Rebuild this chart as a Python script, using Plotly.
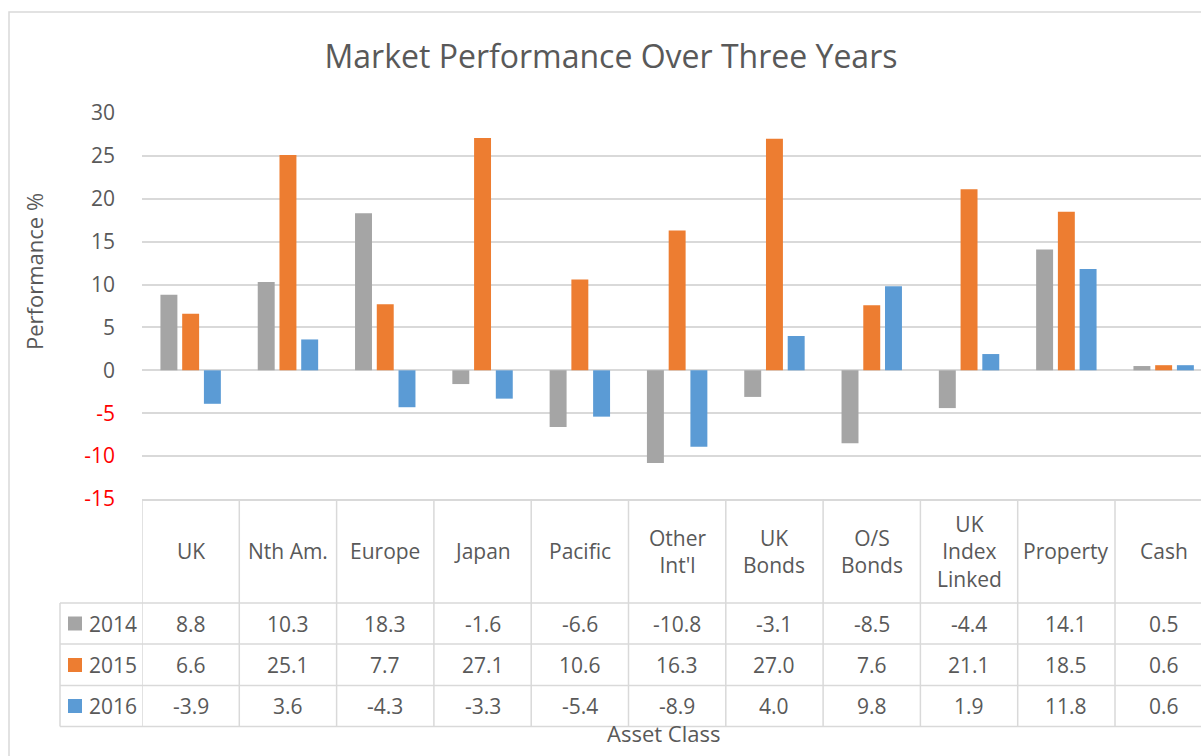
import plotly.graph_objects as go

categories = ["UK", "Nth Am.", "Europe", "Japan", "Pacific", "Other Int'l",
              "UK Bonds", "O/S Bonds", "UK Index Linked", "Property", "Cash"]
header_labels = ["UK", "Nth Am.", "Europe", "Japan", "Pacific", "Other<br>Int'l",
                 "UK<br>Bonds", "O/S<br>Bonds", "UK<br>Index<br>Linked", "Property", "Cash"]
years = ["2014", "2015", "2016"]
v2014 = [8.8, 10.3, 18.3, -1.6, -6.6, -10.8, -3.1, -8.5, -4.4, 14.1, 0.5]
v2015 = [6.6, 25.1, 7.7, 27.1, 10.6, 16.3, 27.0, 7.6, 21.1, 18.5, 0.6]
v2016 = [-3.9, 3.6, -4.3, -3.3, -5.4, -8.9, 4.0, 9.8, 1.9, 11.8, 0.6]
series = [v2014, v2015, v2016]
colors = ["#A5A5A5", "#ED7D31", "#5B9BD5"]
tick_vals = [30, 25, 20, 15, 10, 5, 0, -5, -10, -15]

W, H = 1201, 756
L, R, T, B = 142, 0, 113, 257
PW = W - L - R
PH = H - T - B
CATW = 97.3
FONT = "Open Sans"
GREY = "#595959"
LINE = "#D9D9D9"


def px_x(px):
    return (px - L) / PW


def px_y(py):
    return (H - B - py) / PH


fig = go.Figure()
for name, vals, col in zip(years, series, colors):
    fig.add_trace(go.Bar(x=categories, y=vals, name=name, marker_color=col,
                         marker_line_width=0, showlegend=False))

ticktext = [(f"<span style='color:#FF0000'>{v}</span>" if v < 0 else str(v)) for v in tick_vals]

shapes = []
annotations = []

# chart area border
shapes.append(dict(type="rect", xref="paper", yref="paper",
                   x0=px_x(9), x1=px_x(W + 20), y0=px_y(12), y1=px_y(H + 20),
                   line=dict(color=LINE, width=1.5), fillcolor="rgba(0,0,0,0)", layer="below"))

# table geometry (pixel rows)
row_lines = [603, 644, 685.5, 726.5]
row_centers = [623.5, 665, 706]
header_center = 551

for py in row_lines:
    shapes.append(dict(type="line", xref="paper", yref="paper",
                       x0=px_x(60), x1=1.0, y0=px_y(py), y1=px_y(py),
                       line=dict(color=LINE, width=1.5)))
# vertical lines at category boundaries
for k in range(len(categories)):
    shapes.append(dict(type="line", xref="x", yref="paper",
                       x0=k - 0.5, x1=k - 0.5, y0=0, y1=px_y(row_lines[-1]),
                       line=dict(color=LINE, width=1.5)))
# legend column left edge
shapes.append(dict(type="line", xref="paper", yref="paper",
                   x0=px_x(60), x1=px_x(60), y0=px_y(row_lines[0]), y1=px_y(row_lines[-1]),
                   line=dict(color=LINE, width=1.5)))

tfont = dict(family=FONT, size=21, color=GREY)
for k, lab in enumerate(header_labels):
    annotations.append(dict(x=k, y=px_y(header_center), xref="x", yref="paper",
                            text=lab, showarrow=False, font=tfont,
                            xanchor="center", yanchor="middle"))
for r, (name, vals, col) in enumerate(zip(years, series, colors)):
    cy = row_centers[r]
    shapes.append(dict(type="rect", xref="paper", yref="paper",
                       x0=px_x(68), x1=px_x(82), y0=px_y(cy - 7), y1=px_y(cy + 7),
                       fillcolor=col, line=dict(width=0)))
    annotations.append(dict(x=px_x(87), y=px_y(cy), xref="paper", yref="paper",
                            text=name, showarrow=False, font=tfont,
                            xanchor="left", yanchor="middle"))
    for k, v in enumerate(vals):
        annotations.append(dict(x=k, y=px_y(cy), xref="x", yref="paper",
                                text=f"{v:.1f}", showarrow=False, font=tfont,
                                xanchor="center", yanchor="middle"))

# axis titles
annotations.append(dict(x=px_x(34), y=px_y(272), xref="paper", yref="paper",
                        text="Performance %", textangle=-90, showarrow=False,
                        font=dict(family=FONT, size=22, color=GREY),
                        xanchor="center", yanchor="middle"))
annotations.append(dict(x=px_x(663.5), y=px_y(733), xref="paper", yref="paper",
                        text="Asset Class", showarrow=False,
                        font=dict(family=FONT, size=22, color=GREY),
                        xanchor="center", yanchor="middle"))

fig.update_layout(
    width=W, height=H,
    margin=dict(l=L, r=R, t=T, b=B, autoexpand=False),
    paper_bgcolor="white", plot_bgcolor="white",
    barmode="group", bargap=0.33, bargroupgap=0.22,
    title=dict(text="Market Performance Over Three Years", x=611 / W,
               xref="container", xanchor="center", y=1 - 57 / H, yref="container",
               yanchor="middle", font=dict(family=FONT, size=32, color=GREY)),
    xaxis=dict(type="category", range=[-0.5, -0.5 + PW / CATW], showticklabels=False,
               showgrid=False, showline=True, linecolor=LINE, linewidth=1.5,
               zeroline=False, fixedrange=True),
    yaxis=dict(range=[-15, 30], tickvals=tick_vals, ticktext=ticktext,
               showgrid=True, gridcolor=LINE, gridwidth=1.5,
               zeroline=True, zerolinecolor=LINE, zerolinewidth=1.5,
               showline=False, ticks="", ticklabelstandoff=26,
               tickfont=dict(family=FONT, size=21, color=GREY), fixedrange=True),
    shapes=shapes, annotations=annotations,
    font=dict(family=FONT, color=GREY),
)

fig.write_html("out.html", config={"displayModeBar": False},
               post_script="document.body.style.margin='0';document.body.style.overflow='hidden';")
